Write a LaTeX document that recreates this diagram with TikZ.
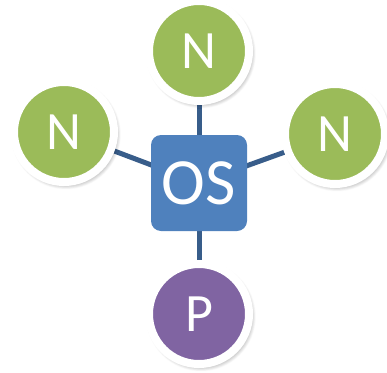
\documentclass[tikz,border=0pt]{standalone}
\usepackage{fontspec}
\setmainfont{Carlito}
\usetikzlibrary{shadows.blur,backgrounds}
\definecolor{ngreen}{HTML}{9BBB59}
\definecolor{osblue}{HTML}{4F81BD}
\definecolor{ppurple}{HTML}{8064A2}
\definecolor{linkblue}{HTML}{385D8A}
\tikzset{
  bubble/.style={circle, inner sep=0pt, minimum size=100pt, draw=white, line width=8pt,
    text=white, font=\fontsize{54}{54}\selectfont,
    blur shadow={shadow xshift=2pt, shadow yshift=-2.5pt, shadow blur radius=5pt, shadow opacity=50, shadow blur steps=10}},
  osbox/.style={rectangle, rounded corners=10pt, minimum size=96pt, inner sep=0pt, fill=osblue,
    text=white, font=\fontsize{66}{66}\selectfont},
  link/.style={draw=linkblue, line width=5pt}
}
\begin{document}
\begin{tikzpicture}[x=1pt,y=-1pt]
\useasboundingbox (0,0) rectangle (387,372);
\node[osbox] (os) at (199,183) {OS};
\node[bubble, fill=ngreen] (ntop) at (199,51) {N};
\node[bubble, fill=ngreen] (nleft) at (64,132) {N};
\node[bubble, fill=ngreen] (nright) at (335,134) {N};
\node[bubble, fill=ppurple] (p) at (199,314) {P};
\begin{pgfonlayer}{background}
\draw[link] (os.center) -- (ntop.center);
\draw[link] (os.center) -- (nleft.center);
\draw[link] (os.center) -- (nright.center);
\draw[link] (os.center) -- (p.center);
\end{pgfonlayer}
\end{tikzpicture}
\end{document}
